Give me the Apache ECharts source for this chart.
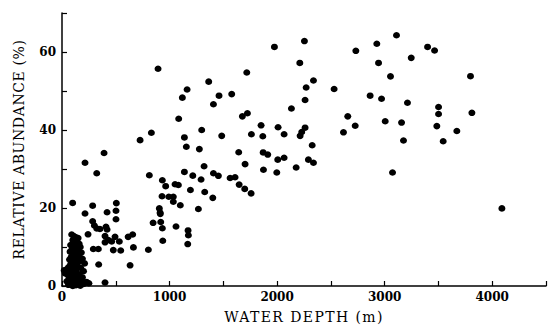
<!DOCTYPE html>
<html>
<head>
<meta charset="utf-8">
<script src="https://cdn.jsdelivr.net/npm/echarts@6/dist/echarts.min.js"></script>
<style>
html,body{margin:0;padding:0;background:#fff;}
#chart{width:549px;height:329px;}
</style>
</head>
<body>
<div id="chart"></div>
<script>
// [water depth (m), relative abundance (%)]
var clusterPoints = [
  [90,13.2],[110,12.8],[130,12.5],[150,12.3],[100,11.8],[140,11.5],[120,11],[160,10.8],[80,10.5],[170,10],
  [110,10.2],[95,9.6],[150,9.5],[130,9],[75,8.8],[180,8.6],[105,8.2],[160,8],[140,7.6],[85,7.4],
  [120,7.2],[190,7],[70,6.8],[100,6.5],[165,6.4],[135,6],[210,5.8],[80,5.6],[115,5.3],[150,5],
  [60,4.8],[175,4.6],[95,4.4],[40,4.2],[20,4],[130,3.9],[200,3.8],[70,3.6],[110,3.4],[30,3.2],
  [160,3],[55,2.8],[85,2.6],[140,2.4],[190,2.2],[100,2],[65,1.8],[120,1.6],[170,1.4],[45,1.2],
  [90,1],[150,0.9],[230,1],[75,0.6],[115,0.4],[200,0.5],[130,0.2],[60,0.3],[100,0],[170,0.1],[250,0.7]
];
var shelfPoints = [
  [391,34.1],[214,31.6],[323,28.9],[99,21.3],[285,20.6],[505,21.25],[502,19.3],[214,18.6],[419,18.9],[502,17.1],
  [285,16.6],[301,15.5],[323,14.75],[353,14.6],[409,15.2],[419,14.5],[242,13.25],[400,12.8],[493,12.6],[615,12.6],
  [400,11.2],[462,11.4],[533,11.4],[291,9.5],[338,9.5],[477,9.2],[546,9.1],[341,5.5],[400,0.9],[214,0.9],[431,11.8]
];
var slopePoints = [
  [893,55.7],[1364,52.4],[1163,50.4],[1119,48.3],[1460,48.8],[1408,46.6],[1085,42.9],[1299,40],[831,39.3],[726,37.4],
  [1138,38.1],[1485,38.5],[1156,35.7],[1277,35.1],[1321,30.7],[812,28.4],[1138,29.25],[1216,28.3],[1293,27.3],[1408,28.9],
  [1454,28.25],[933,27.1],[964,25.6],[1051,26.1],[1082,25.9],[1194,24.6],[1327,24.1],[1402,22.6],[930,23],[993,22.9],
  [1035,22.9],[1035,21.6],[1100,20.7],[1268,19.75],[905,19.9],[912,18.8],[914,18.5],[847,16.2],[918,16.4],[933,14.8],
  [1060,15.25],[1172,14.25],[1175,13],[657,13.2],[937,11.6],[1169,10.75],[664,9.9],[803,9.3],[633,5.3]
];
var midPoints = [
  [2254,62.8],[1975,61.3],[2211,57.2],[1718,54.75],[2338,52.7],[2270,50.9],[1578,49.2],[2260,47.7],[2133,45.5],[1724,44.3],
  [1677,43.5],[1851,41.2],[2009,40.7],[2260,40.6],[2229,39.5],[2214,38.5],[1761,38.9],[1867,38.4],[2065,38.9],[2326,36.1],
  [1643,34.3],[1870,34.25],[1913,33.7],[2065,32.9],[2006,32.4],[2291,32.4],[2338,31.6],[1702,31.25],[1873,29.8],[2177,30.4],
  [1997,29.1],[1563,27.7],[1609,27.9],[1647,26],[1699,24.9],[1758,23.75]
];
var deepPoints = [
  [3798,53.8],[3501,45.9],[3501,44.1],[3811,44.4],[3485,41],[3671,39.75],[3544,37.1],[4090,19.9],
  [3110,64.3],[2927,62.1],[2732,60.3],[3399,61.3],[3464,60.4],[3247,58.5],[2943,57.2],[3054,53.75],[2530,50.5],[2865,48.8],
  [2971,48],[3212,47],[2657,43.5],[2726,41.1],[3005,42.25],[3157,41.9],[2617,39.4],[3175,37.3],[3073,29.1]
];
var xTickLabels = [0, 1000, 2000, 3000, 4000];
var yTickLabels = [0, 20, 40, 60];
var xTitle = 'WATER DEPTH (m)';
var yTitle = 'RELATIVE ABUNDANCE (%)';

var allPoints = clusterPoints.concat(shelfPoints, slopePoints, midPoints, deepPoints);

var chart = echarts.init(document.getElementById('chart'), null, {renderer: 'svg'});
var tickFont = {fontFamily: 'DejaVu Serif', fontWeight: 'bold', fontSize: 12, color: '#000'};
chart.setOption({
  backgroundColor: '#fff',
  animation: false,
  grid: {left: 62, right: 3, top: 13, bottom: 36},
  xAxis: {
    type: 'value', min: 0, max: 4500, interval: 500,
    name: xTitle, nameLocation: 'middle', nameGap: 24,
    nameTextStyle: {fontFamily: 'DejaVu Serif', fontSize: 14, color: '#000'},
    axisLine: {show: true, lineStyle: {color: '#000', width: 1.5}},
    axisTick: {show: true, inside: true, length: 5, lineStyle: {color: '#000', width: 1.2}},
    axisLabel: Object.assign({margin: 5, formatter: function (v) {
      return xTickLabels.indexOf(v) >= 0 ? String(v) : '';
    }}, tickFont),
    splitLine: {show: false}
  },
  yAxis: {
    type: 'value', min: 0, max: 70, interval: 10,
    name: yTitle, nameLocation: 'middle', nameGap: 36,
    nameTextStyle: {fontFamily: 'DejaVu Serif', fontSize: 14, color: '#000'},
    axisLine: {show: true, lineStyle: {color: '#000', width: 1.5}},
    axisTick: {show: true, inside: true, length: 5, lineStyle: {color: '#000', width: 1.2}},
    axisLabel: Object.assign({margin: 6, formatter: function (v) {
      return yTickLabels.indexOf(v) >= 0 ? String(v) : '';
    }}, tickFont),
    splitLine: {show: false}
  },
  series: [{
    type: 'scatter',
    data: allPoints,
    symbol: 'circle',
    symbolSize: [7, 6.5],
    itemStyle: {color: '#000', opacity: 1}
  }]
});

function spaceTitles() {
  var texts = document.querySelectorAll('#chart svg text');
  texts.forEach(function (t) {
    var s = t.textContent;
    if (s === xTitle) t.style.letterSpacing = '1.4px';
    else if (s === yTitle) t.style.letterSpacing = '0.6px';
  });
}
chart.on('finished', spaceTitles);
spaceTitles();
</script>
</body>
</html>
